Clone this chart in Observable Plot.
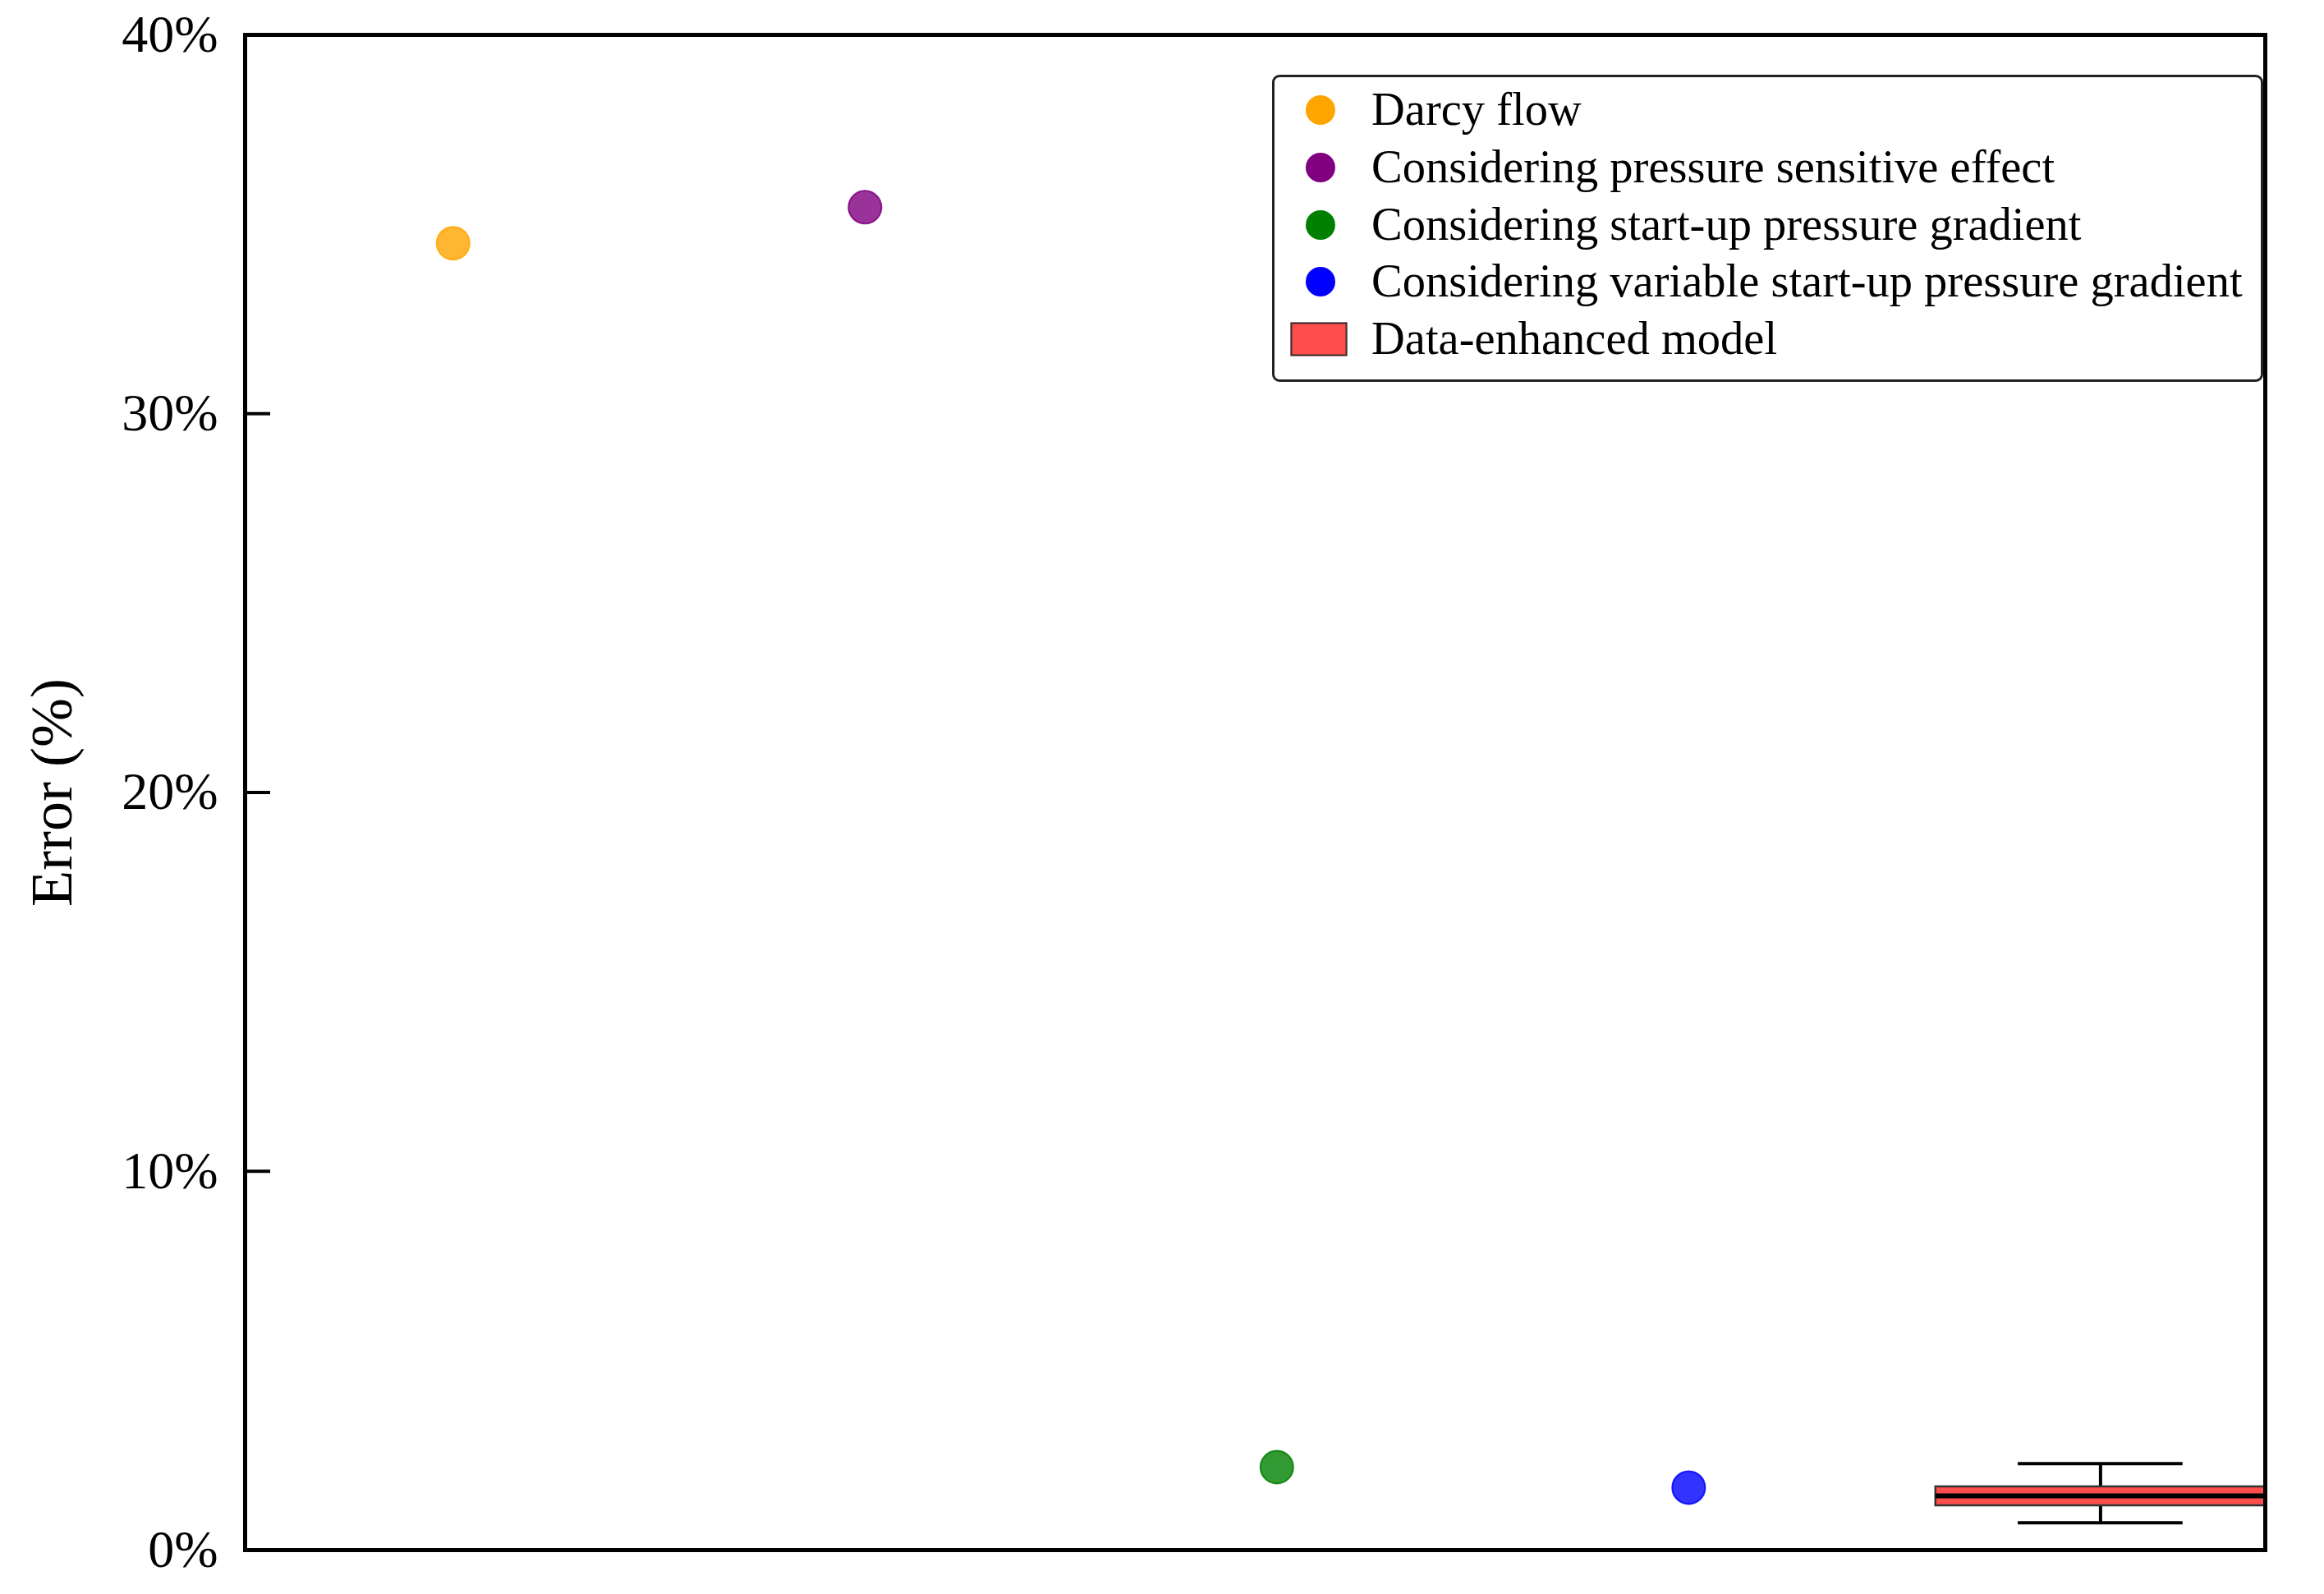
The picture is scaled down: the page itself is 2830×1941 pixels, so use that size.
<!DOCTYPE html>
<html>
<head>
<meta charset="utf-8">
<script src="https://cdn.jsdelivr.net/npm/d3@7"></script>
<script src="https://cdn.jsdelivr.net/npm/@observablehq/plot@0.6"></script>
<style>
  html, body { margin: 0; padding: 0; background: #fff; }
  #wrap { position: relative; width: 2830px; height: 1941px; font-family: "Liberation Serif", "Times New Roman", serif; }
  #legend { position: absolute; left: 1549px; top: 91px; width: 1201px; height: 368px; border: 3px solid #222; border-radius: 9px; background: #fff; }
  .row { position: absolute; left: 0; height: 70px; width: 100%; }
  .mk { position: absolute; top: 50%; transform: translate(-50%, -50%); }
  .dotmk { width: 36px; height: 36px; border-radius: 50%; }
  .rectmk { width: 65px; height: 37px; border: 2px solid #333; }
  .lbl { position: absolute; left: 118px; top: 50%; transform: translateY(-52%); font-size: 56.5px; line-height: 1; color: #000; white-space: nowrap; }
</style>
</head>
<body>
<div id="wrap"></div>
<script>
// ---- data ----
const categories = [
  "Darcy flow",
  "Considering pressure sensitive effect",
  "Considering start-up pressure gradient",
  "Considering variable start-up pressure gradient",
  "Data-enhanced model"
];
const pointErrors = [34.5, 35.45, 2.19, 1.65];           // % error of the four physical models
const pointColors = ["#FFA500", "#800080", "#008000", "#0000FF"];
const boxStatNames = ["min", "q1", "median", "q3", "max"];
const boxStatValues = [0.72, 1.17, 1.43, 1.67, 2.28];     // % error, data-enhanced model
const boxColor = "#FF4D4D";
const yTicks = [0, 10, 20, 30, 40];

// ---- derived tables ----
const points = pointErrors.map((v, i) => ({pos: i + 1, value: v, color: pointColors[i], name: categories[i]}));
const stat = Object.fromEntries(boxStatNames.map((n, i) => [n, boxStatValues[i]]));
const box = [{pos: categories.length, ...stat}];
const halfBox = 0.4, halfCap = 0.2;

const chart = Plot.plot({
  width: 2830,
  height: 1941,
  marginLeft: 298,
  marginRight: 72,
  marginTop: 42,
  marginBottom: 54,
  style: {fontFamily: "Liberation Serif, Times New Roman, serif", fontSize: "64px", color: "#000", background: "#fff"},
  x: {domain: [0.495, 5.4], axis: null},
  y: {domain: [0, 40], axis: null},
  marks: [
    Plot.axisY({ticks: yTicks, tickFormat: d => d + "%", tickSize: -31, tickPadding: 64, strokeWidth: 4, fontSize: 64, label: null}),
    Plot.text(["Error (%)"], {frameAnchor: "left", textAnchor: "middle", dx: -235, rotate: -90, fontSize: 72}),
    // whiskers
    Plot.ruleX(box, {x: "pos", y1: "min", y2: "q1", stroke: "#000", strokeWidth: 4}),
    Plot.ruleX(box, {x: "pos", y1: "q3", y2: "max", stroke: "#000", strokeWidth: 4}),
    Plot.ruleY(box, {y: "min", x1: d => d.pos - halfCap, x2: d => d.pos + halfCap, stroke: "#000", strokeWidth: 4}),
    Plot.ruleY(box, {y: "max", x1: d => d.pos - halfCap, x2: d => d.pos + halfCap, stroke: "#000", strokeWidth: 4}),
    // box
    Plot.rect(box, {x1: d => d.pos - halfBox, x2: d => d.pos + halfBox, y1: "q1", y2: "q3", fill: boxColor, stroke: "#333", strokeWidth: 2.5}),
    Plot.ruleY(box, {y: "median", x1: d => d.pos - halfBox, x2: d => d.pos + halfBox, stroke: "#000", strokeWidth: 6}),
    // points
    Plot.dot(points, {x: "pos", y: "value", r: 20, fill: "color", fillOpacity: 0.8, stroke: "color", strokeOpacity: 0.85, strokeWidth: 2}),
    Plot.frame({stroke: "#000", strokeWidth: 5})
  ]
});

const wrap = document.getElementById("wrap");
wrap.appendChild(chart);

// ---- legend ----
const legend = document.createElement("div");
legend.id = "legend";
categories.forEach((name, i) => {
  const row = document.createElement("div");
  row.className = "row";
  row.style.top = (5 + i * 69.75) + "px";
  const mk = document.createElement("div");
  if (i < pointColors.length) {
    mk.className = "mk dotmk";
    mk.style.background = pointColors[i];
    mk.style.left = "56px";
  } else {
    mk.className = "mk rectmk";
    mk.style.background = boxColor;
    mk.style.left = "54px";
  }
  const lbl = document.createElement("div");
  lbl.className = "lbl";
  lbl.textContent = name;
  row.appendChild(mk);
  row.appendChild(lbl);
  legend.appendChild(row);
});
wrap.appendChild(legend);
</script>
</body>
</html>
